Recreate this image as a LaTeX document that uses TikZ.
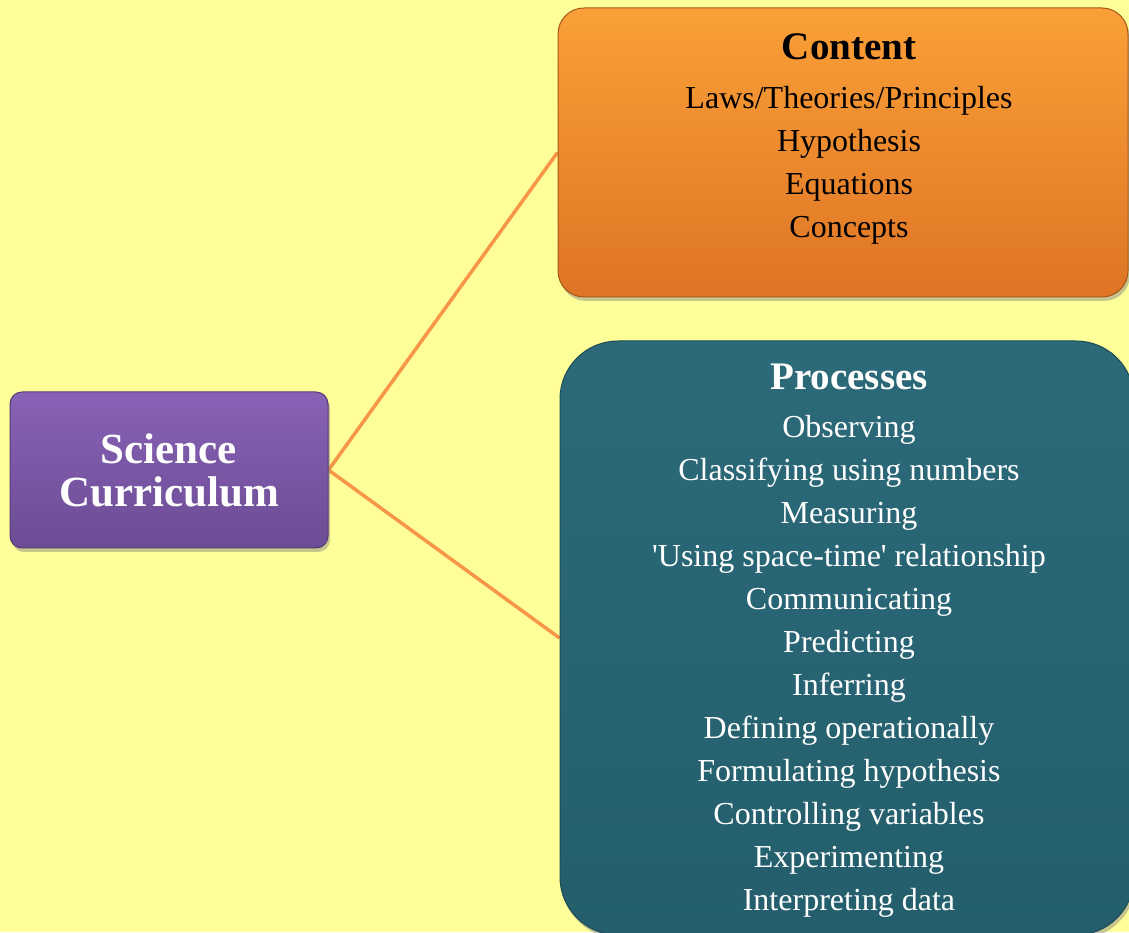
\documentclass[tikz,border=0pt]{standalone}
\usepackage{fontspec}
\setmainfont{Liberation Serif}
\usetikzlibrary{shadows,backgrounds}
\definecolor{bgyellow}{RGB}{255,255,153}
\definecolor{linkorange}{RGB}{247,150,70}
\definecolor{currtop}{RGB}{136,98,182}
\definecolor{currbot}{RGB}{108,76,148}
\definecolor{conttop}{RGB}{251,160,55}
\definecolor{contbot}{RGB}{222,116,36}
\definecolor{proctop}{RGB}{44,106,122}
\definecolor{procbot}{RGB}{36,94,108}

\begin{document}
\begin{tikzpicture}[x=1pt,y=1pt,
  box/.style={rectangle,inner sep=0pt,line width=1pt,drop shadow={opacity=0.45,shadow xshift=2pt,shadow yshift=-4pt}},
  head/.style={font=\fontsize{39}{43}\selectfont\bfseries,inner sep=0pt},
  items/.style={font=\fontsize{32}{43}\selectfont,align=center,inner sep=0pt}]
\useasboundingbox (0,0) rectangle (1129,932);

% the three boxes
\node[box,rounded corners=12pt,draw=currbot!80!black,top color=currtop,bottom color=currbot,minimum width=318pt,minimum height=156pt,text=white,align=center,font=\fontsize{43}{43}\selectfont\bfseries] (curr) at (169,462) {Science\\Curriculum};
\node[box,rounded corners=26pt,draw=contbot!75!black,top color=conttop,bottom color=contbot,minimum width=570pt,minimum height=289pt] (content) at (843,779.5) {};
\node[box,rounded corners=58pt,draw=procbot!80!black,top color=proctop,bottom color=procbot,minimum width=574pt,minimum height=594pt] (proc) at (847,294) {};

% texts
\node[head] (conthead) at (849,885) {Content};
\node[items] (contlist) at (849,766.5) {Laws/Theories/Principles\\Hypothesis\\Equations\\Concepts};
\node[head,text=white] (prochead) at (849,555) {Processes};
\node[items,text=white] (proclist) at (849,265.5) {Observing\\Classifying using numbers\\Measuring\\\textquotesingle Using space-time\textquotesingle{} relationship\\Communicating\\Predicting\\Inferring\\Defining operationally\\Formulating hypothesis\\Controlling variables\\Experimenting\\Interpreting data};

\begin{pgfonlayer}{background}
\fill[bgyellow] (0,0) rectangle (1129,932);
\draw[linkorange,line width=3.5pt] (curr.east) -- (content.west);
\draw[linkorange,line width=3.5pt] (curr.east) -- (proc.west);
\end{pgfonlayer}
\end{tikzpicture}
\end{document}
